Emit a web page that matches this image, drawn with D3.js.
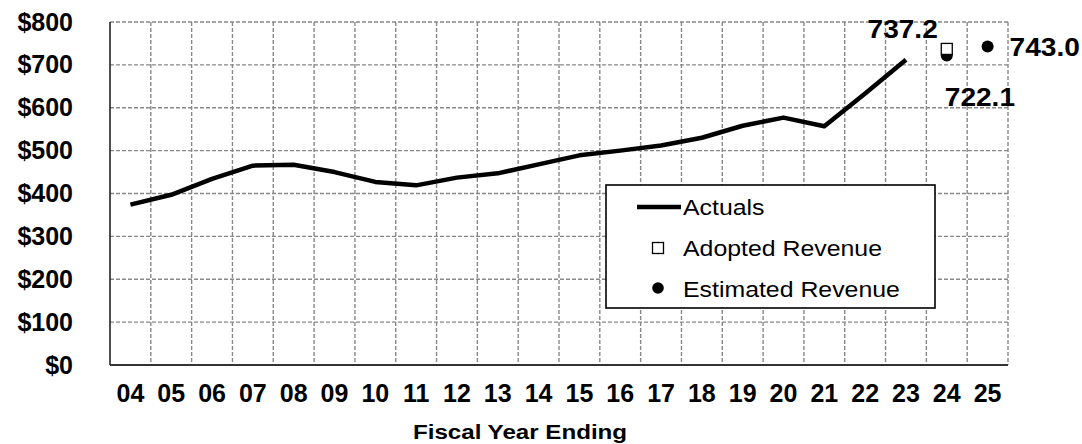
<!DOCTYPE html>
<html>
<head>
<meta charset="utf-8">
<script src="https://cdn.jsdelivr.net/npm/d3@7"></script>
<style>
  html, body { margin: 0; padding: 0; background: #fff; }
  svg { display: block; font-family: "Liberation Sans", Arial, sans-serif; }
</style>
</head>
<body>
<svg id="chart" width="1082" height="444"></svg>
<script>
// ---- data ----
const categories = ["04","05","06","07","08","09","10","11","12","13","14","15","16","17","18","19","20","21","22","23","24","25"];
const actualYears = ["04","05","06","07","08","09","10","11","12","13","14","15","16","17","18","19","20","21","22","23"];
const actualValues = [374,397,434,465,467,450,427,419,437,447,468,489,500,512,530,558,577,557,633,712];
const adoptedYears = ["24"];
const adoptedValues = [737.2];
const estimatedYears = ["24","25"];
const estimatedValues = [722.1,743.0];
const yTicks = [0,100,200,300,400,500,600,700,800];
const xTitle = "Fiscal Year Ending";
const legendLabels = ["Actuals","Adopted Revenue","Estimated Revenue"];

// ---- layout ----
const pLeft = 110, pRight = 1008, pTop = 22, pBottom = 365;
const svg = d3.select("#chart");

const x = d3.scaleBand().domain(categories).range([pLeft, pRight]).padding(0);
const y = d3.scaleLinear().domain([0, 800]).range([pBottom, pTop]);

const gridColor = "#888";
const grid = svg.append("g");
grid.selectAll("line.h").data(yTicks.filter(d => d > 0)).join("line")
  .attr("x1", pLeft).attr("x2", pRight)
  .attr("y1", d => y(d)).attr("y2", d => y(d))
  .attr("stroke", gridColor).attr("stroke-width", 1.4).attr("stroke-dasharray", "4,2");
const vb = categories.slice(1).map(c => x(c)).concat([pRight]);
grid.selectAll("line.v").data(vb).join("line")
  .attr("x1", d => d).attr("x2", d => d)
  .attr("y1", pTop).attr("y2", pBottom)
  .attr("stroke", gridColor).attr("stroke-width", 1.4).attr("stroke-dasharray", "4,2");

svg.append("line").attr("x1", pLeft).attr("x2", pLeft).attr("y1", pTop).attr("y2", pBottom)
  .attr("stroke", "#222").attr("stroke-width", 1.6);
svg.append("line").attr("x1", pLeft).attr("x2", pRight).attr("y1", pBottom).attr("y2", pBottom)
  .attr("stroke", "#333").attr("stroke-width", 2);

const tickFont = "'Liberation Sans', Arial, sans-serif";
const yAxis = svg.append("g").attr("transform", `translate(${pLeft},0)`)
  .call(d3.axisLeft(y).tickValues(yTicks).tickFormat(d => "$" + d).tickSize(0).tickPadding(37));
yAxis.select(".domain").remove();
yAxis.selectAll("text").attr("font-size", 25).attr("font-weight", "bold").attr("fill", "#000")
  .attr("font-family", tickFont);

const xAxis = svg.append("g").attr("transform", `translate(0,${pBottom})`)
  .call(d3.axisBottom(x).tickSize(0).tickPadding(19));
xAxis.select(".domain").remove();
xAxis.selectAll("text").attr("font-size", 25).attr("font-weight", "bold").attr("fill", "#000")
  .attr("font-family", tickFont);

svg.append("text").attr("transform", "translate(520,439) scale(1.15,1)")
  .attr("text-anchor", "middle").attr("font-size", 21).attr("font-weight", "bold")
  .text(xTitle);

const line = d3.line().x((d, i) => x(actualYears[i]) + x.bandwidth() / 2).y(d => y(d));
svg.append("path").datum(actualValues).attr("d", line)
  .attr("fill", "none").attr("stroke", "#000").attr("stroke-width", 4.5)
  .attr("stroke-linejoin", "round");

svg.selectAll("circle.est").data(estimatedValues).join("circle")
  .attr("cx", (d, i) => x(estimatedYears[i]) + x.bandwidth() / 2)
  .attr("cy", d => y(d)).attr("r", 6).attr("fill", "#000");

svg.selectAll("rect.adp").data(adoptedValues).join("rect")
  .attr("x", (d, i) => x(adoptedYears[i]) + x.bandwidth() / 2 - 5.5)
  .attr("y", d => y(d) - 5.5).attr("width", 11).attr("height", 11)
  .attr("fill", "#fff").attr("stroke", "#000").attr("stroke-width", 1.3);

const lbl = (txt, tx, ty, anchor) => svg.append("text")
  .attr("transform", `translate(${tx},${ty}) scale(1.08,1)`).attr("text-anchor", anchor)
  .attr("font-size", 26).attr("font-weight", "bold").text(txt);
lbl(d3.format(".1f")(adoptedValues[0]), x("24") + x.bandwidth() / 2 - 9, 38, "end");
lbl(d3.format(".1f")(estimatedValues[0]), x("24") + x.bandwidth() / 2 - 2, 106, "start");
lbl(d3.format(".1f")(estimatedValues[1]), x("25") + x.bandwidth() / 2 + 22, 56, "start");

const lg = svg.append("g");
lg.append("rect").attr("x", 606).attr("y", 185).attr("width", 329).attr("height", 123)
  .attr("fill", "#fff").attr("stroke", "#000").attr("stroke-width", 1.6);
lg.append("line").attr("x1", 637).attr("x2", 681).attr("y1", 207).attr("y2", 207)
  .attr("stroke", "#000").attr("stroke-width", 4.5);
lg.append("rect").attr("x", 652.5).attr("y", 242.5).attr("width", 11).attr("height", 11)
  .attr("fill", "#fff").attr("stroke", "#000").attr("stroke-width", 1.3);
lg.append("circle").attr("cx", 658).attr("cy", 288).attr("r", 5.8).attr("fill", "#000");
const ly = [215, 256, 297];
legendLabels.forEach((t, i) => {
  lg.append("text").attr("transform", `translate(683,${ly[i]}) scale(1.13,1)`)
    .attr("font-size", 22).attr("fill", "#000").text(t);
});
</script>
</body>
</html>
